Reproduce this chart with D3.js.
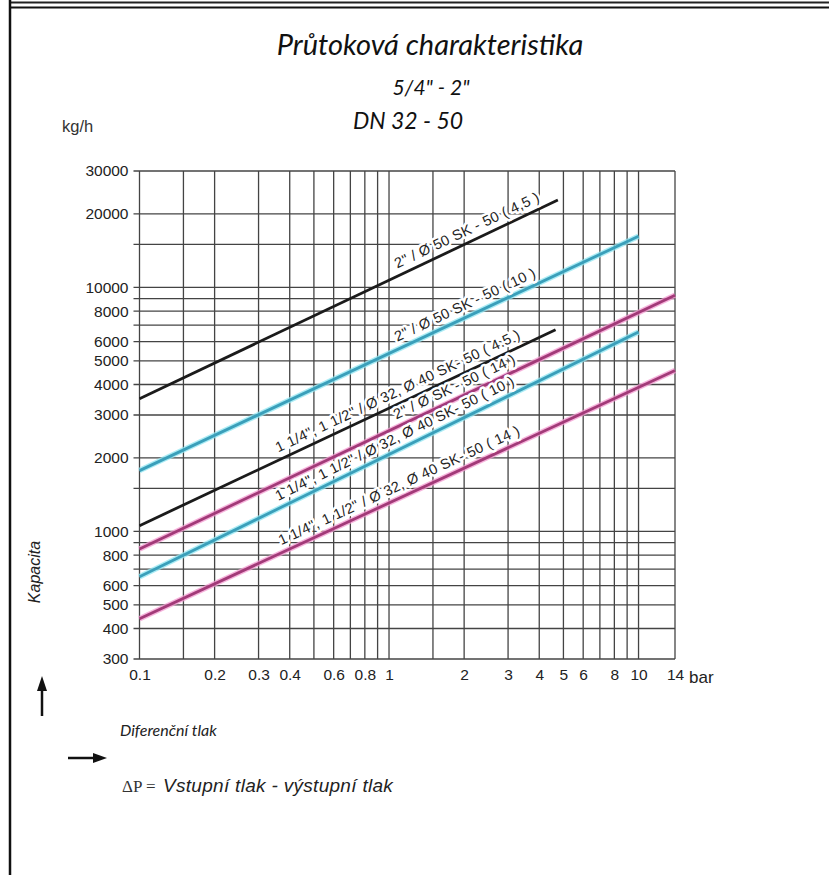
<!DOCTYPE html>
<html>
<head>
<meta charset="utf-8">
<script src="https://cdn.jsdelivr.net/npm/d3@7"></script>
<style>
  html, body { margin: 0; padding: 0; background: #fff; }
  svg { display: block; }
</style>
</head>
<body>
<svg id="svg"></svg>
<script>
// mřížka a popisky os
var xGrid = [0.1, 0.15, 0.2, 0.3, 0.4, 0.5, 0.6, 0.7, 0.8, 0.9, 1, 1.5, 2, 3, 4, 5, 6, 7, 8, 9, 10, 14];
var xTickLabels = [0.1, 0.2, 0.3, 0.4, 0.6, 0.8, 1, 2, 3, 4, 5, 6, 8, 10, 14];
var yGrid = [300, 400, 500, 600, 700, 800, 900, 1000, 1500, 2000, 3000, 4000, 5000, 6000, 7000, 8000, 9000, 10000, 15000, 20000, 30000];
var yTickLabels = [300, 400, 500, 600, 800, 1000, 2000, 3000, 4000, 5000, 6000, 8000, 10000, 20000, 30000];

// křivky (začátek a konec, bar -> kg/h)
var seriesNames = [
  '2" / Ø 50 SK - 50 ( 4,5 )',
  '2" / Ø 50 SK - 50 ( 10 )',
  '1 1/4", 1 1/2" / Ø 32, Ø 40 SK- 50 ( 4.5 )',
  '2" / Ø SK - 50 ( 14 )',
  '1 1/4", 1 1/2" / Ø 32, Ø 40 SK- 50 ( 10 )',
  '1 1/4", 1 1/2" / Ø 32, Ø 40 SK- 50 ( 14 )'
];
var seriesKind = ['black', 'cyan', 'black', 'magenta', 'cyan', 'magenta'];
var dpStart = [0.1, 0.1, 0.1, 0.1, 0.1, 0.1];
var capStart = [3500, 1775, 1056, 847, 652, 439];
var dpEnd = [4.75, 10, 4.65, 14, 10, 14];
var capEnd = [22800, 16200, 6700, 9290, 6560, 4570];
var labelAt = [1.11, 1.11, 0.37, 1.1, 0.37, 0.38];

var colors = {
  black: { line: '#1b1b1b', glow: null },
  cyan: { line: '#3a9fba', glow: '#8fe6f2' },
  magenta: { line: '#a23a78', glow: '#f39ad0' }
};

var width = 829, height = 875;
var s = d3.select('#svg').attr('width', width).attr('height', height);

// rámeček
s.append('line').attr('x1', 9).attr('x2', width).attr('y1', 2.5).attr('y2', 2.5)
  .attr('stroke', '#222').attr('stroke-width', 2);
s.append('line').attr('x1', 9).attr('x2', width).attr('y1', 7.5).attr('y2', 7.5)
  .attr('stroke', '#111').attr('stroke-width', 2);
s.append('line').attr('x1', 10).attr('x2', 10).attr('y1', 0).attr('y2', height)
  .attr('stroke', '#111').attr('stroke-width', 2.5);

var scaleX = d3.scaleLog().domain([0.1, 14]).range([139.5, 675]);
var scaleY = d3.scaleLog().domain([300, 30000]).range([659, 171]);

var g = s.append('g');

// svislé čáry
g.selectAll('line.vx')
  .data(xGrid)
  .enter()
  .append('line')
  .attr('x1', function (d) { return scaleX(d); })
  .attr('x2', function (d) { return scaleX(d); })
  .attr('y1', scaleY(30000))
  .attr('y2', scaleY(300))
  .attr('stroke', '#444')
  .attr('stroke-width', 1.3);

// vodorovné čáry
g.selectAll('line.hy')
  .data(yGrid)
  .enter()
  .append('line')
  .attr('x1', scaleX(0.1) - 6)
  .attr('x2', scaleX(14))
  .attr('y1', function (d) { return scaleY(d); })
  .attr('y2', function (d) { return scaleY(d); })
  .attr('stroke', '#444')
  .attr('stroke-width', 1.3);

var sans = 'Liberation Sans, Arial, sans-serif';

var axisY = d3.axisLeft(scaleY).tickValues(yTickLabels).tickSize(0).tickPadding(11)
  .tickFormat(function (d) { return d; });
var ay = g.append('g').attr('transform', 'translate(' + scaleX(0.1) + ',0)').call(axisY);
ay.select('.domain').remove();
ay.selectAll('text').attr('font-family', sans)
  .attr('font-size', 15.5).attr('fill', '#222');

var axisX = d3.axisBottom(scaleX).tickValues(xTickLabels).tickSize(0).tickPadding(10)
  .tickFormat(function (d) { return d; });
var ax = g.append('g').attr('transform', 'translate(0,' + scaleY(300) + ')').call(axisX);
ax.select('.domain').remove();
ax.selectAll('text').attr('font-family', sans)
  .attr('font-size', 15.5).attr('fill', '#222');

g.append('text').attr('x', scaleX(14) + 14).attr('y', scaleY(300) + 24)
  .attr('font-family', sans).attr('font-size', 17)
  .attr('fill', '#222').text('bar');

// křivky
var idx = d3.range(seriesNames.length);
var line = d3.line()
  .x(function (p) { return scaleX(p[0]); })
  .y(function (p) { return scaleY(p[1]); });

function pts(i) { return [[dpStart[i], capStart[i]], [dpEnd[i], capEnd[i]]]; }

g.selectAll('path.glow')
  .data(idx.filter(function (i) { return colors[seriesKind[i]].glow; }))
  .enter()
  .append('path')
  .attr('d', function (i) { return line(pts(i)); })
  .attr('fill', 'none')
  .attr('stroke', function (i) { return colors[seriesKind[i]].glow; })
  .attr('stroke-width', 5.5)
  .attr('opacity', 0.75);

g.selectAll('path.curve')
  .data(idx)
  .enter()
  .append('path')
  .attr('d', function (i) { return line(pts(i)); })
  .attr('fill', 'none')
  .attr('stroke', function (i) { return colors[seriesKind[i]].line; })
  .attr('stroke-width', 2.8);

// popisky křivek
g.selectAll('text.lab')
  .data(idx)
  .enter()
  .append('text')
  .attr('transform', function (i) {
    var x0 = scaleX(dpStart[i]), y0 = scaleY(capStart[i]);
    var x1 = scaleX(dpEnd[i]), y1 = scaleY(capEnd[i]);
    var t = (Math.log(labelAt[i]) - Math.log(dpStart[i])) / (Math.log(dpEnd[i]) - Math.log(dpStart[i]));
    var px = x0 + t * (x1 - x0), py = y0 + t * (y1 - y0);
    var ang = Math.atan2(y1 - y0, x1 - x0);
    var off = 7;
    px += Math.sin(ang) * off;
    py -= Math.cos(ang) * off;
    return 'translate(' + px + ',' + py + ') rotate(' + (ang * 180 / Math.PI) + ')';
  })
  .attr('font-family', sans)
  .attr('font-size', 14.5)
  .attr('letter-spacing', 0.3)
  .attr('fill', '#222')
  .attr('stroke', '#fff')
  .attr('stroke-width', 5)
  .attr('stroke-linejoin', 'round')
  .attr('paint-order', 'stroke')
  .text(function (i) { return seriesNames[i]; });

// nadpis
var titleFont = 'Lato, Open Sans, sans-serif';
s.append('text').attr('x', 430).attr('y', 55).attr('text-anchor', 'middle')
  .attr('font-family', titleFont).attr('font-style', 'italic').attr('font-size', 29)
  .attr('fill', '#111').text('Průtoková charakteristika');
s.append('text').attr('x', 431).attr('y', 95).attr('text-anchor', 'middle')
  .attr('font-family', titleFont).attr('font-style', 'italic').attr('font-size', 21)
  .attr('fill', '#111').text('5/4" - 2"');
s.append('text').attr('x', 408).attr('y', 129).attr('text-anchor', 'middle')
  .attr('font-family', titleFont).attr('font-style', 'italic').attr('font-size', 23)
  .attr('fill', '#111').text('DN 32 - 50');

s.append('text').attr('x', 62).attr('y', 132)
  .attr('font-family', sans).attr('font-size', 16.5)
  .attr('fill', '#333').text('kg/h');

s.append('text').attr('transform', 'translate(40,572) rotate(-90)').attr('text-anchor', 'middle')
  .attr('font-family', sans).attr('font-style', 'italic')
  .attr('font-size', 16).attr('fill', '#222').text('Kapacita');

// šipky
s.append('line').attr('x1', 42).attr('x2', 42).attr('y1', 716).attr('y2', 688)
  .attr('stroke', '#111').attr('stroke-width', 2.5);
s.append('path').attr('d', 'M42,676 L37,691 L47,691 Z').attr('fill', '#111');
s.append('line').attr('x1', 68).attr('x2', 95).attr('y1', 758).attr('y2', 758)
  .attr('stroke', '#111').attr('stroke-width', 2.5);
s.append('path').attr('d', 'M107,758 L93,753 L93,763 Z').attr('fill', '#111');

s.append('text').attr('x', 120).attr('y', 736)
  .attr('font-family', titleFont).attr('font-style', 'italic').attr('font-size', 16)
  .attr('fill', '#222').text('Diferenční tlak');

s.append('text').attr('x', 122).attr('y', 792)
  .attr('font-family', 'Liberation Serif, Times New Roman, serif').attr('font-size', 17)
  .attr('fill', '#333').text('ΔP =');
s.append('text').attr('x', 163).attr('y', 792)
  .attr('font-family', sans).attr('font-style', 'italic').attr('letter-spacing', 0.3)
  .attr('font-size', 19).attr('fill', '#222').text('Vstupní tlak - výstupní tlak');
</script>
</body>
</html>
